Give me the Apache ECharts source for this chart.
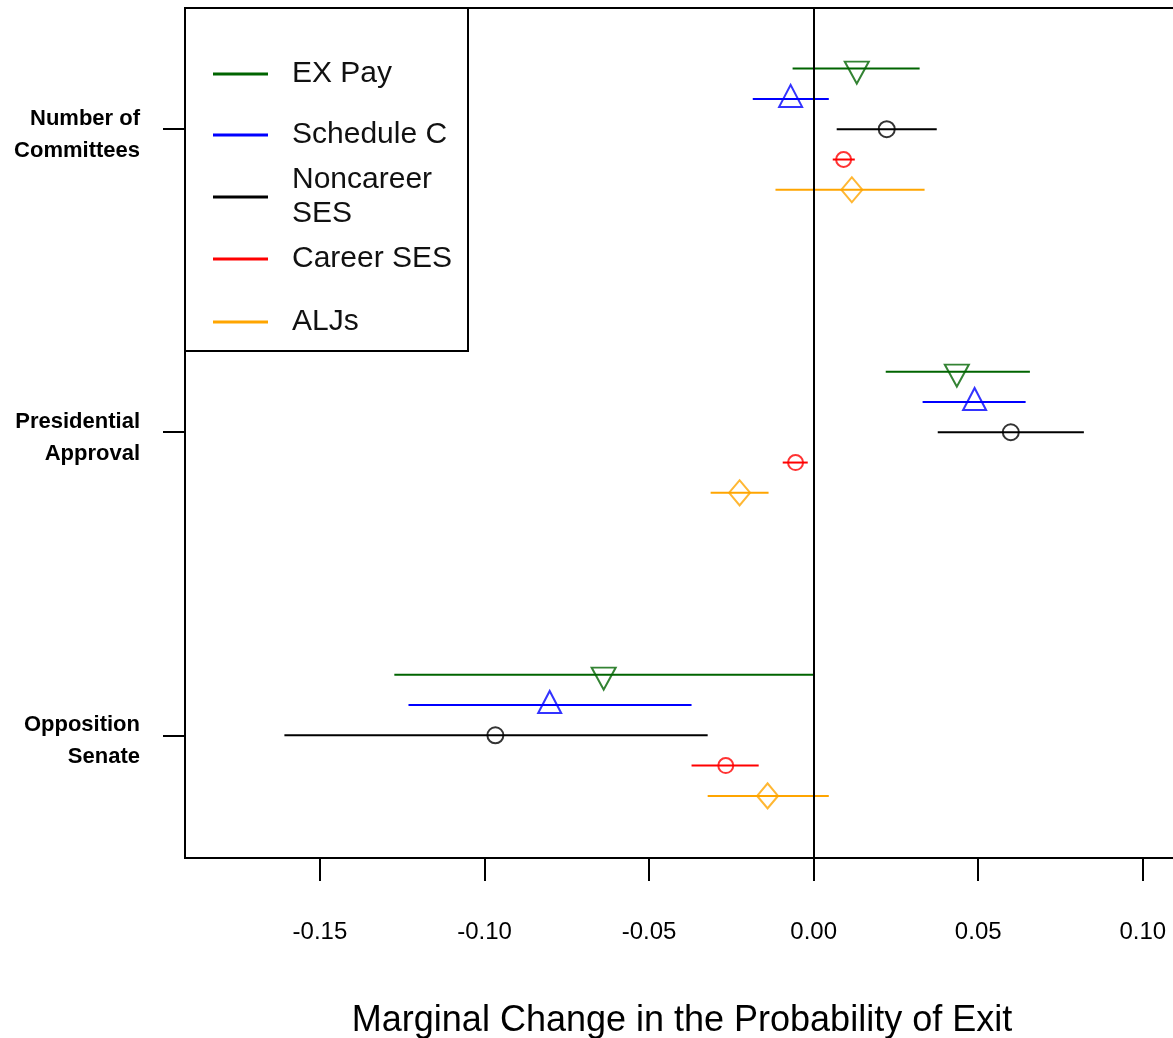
<!DOCTYPE html>
<html>
<head>
<meta charset="utf-8">
<script src="https://cdn.jsdelivr.net/npm/echarts@6/dist/echarts.min.js"></script>
<style>
  html, body { margin: 0; padding: 0; background: #fff; }
  #chatMain { width: 1173px; height: 1038px; }
</style>
</head>
<body>
<div id="chatMain"></div>
<script>
// 分组（y轴），从上到下
var groups = ['Number of\nCommittees', 'Presidential\nApproval', 'Opposition\nSenate'];
var tickVals = [-0.15, -0.10, -0.05, 0.00, 0.05, 0.10];

// 每个系列：估计值 + 置信区间（按 groups 顺序）
var exPayEst = [0.0131, 0.0435, -0.0638];
var exPayLo  = [-0.0064, 0.0219, -0.1274];
var exPayHi  = [0.0322, 0.0657, 0.0000];

var schedCEst = [-0.0070, 0.0489, -0.0802];
var schedCLo  = [-0.0185, 0.0331, -0.1231];
var schedCHi  = [0.0046, 0.0644, -0.0371];

var noncarEst = [0.0222, 0.0599, -0.0967];
var noncarLo  = [0.0070, 0.0377, -0.1608];
var noncarHi  = [0.0374, 0.0821, -0.0322];

var careerEst = [0.0091, -0.0055, -0.0267];
var careerLo  = [0.0058, -0.0094, -0.0371];
var careerHi  = [0.0125, -0.0018, -0.0167];

var aljEst = [0.0116, -0.0225, -0.0140];
var aljLo  = [-0.0116, -0.0313, -0.0322];
var aljHi  = [0.0337, -0.0137, 0.0046];

var FONT = "'Liberation Sans', Arial, sans-serif";

var seriesDefs = [
  { name: 'EX Pay', color: '#006400', est: exPayEst, lo: exPayLo, hi: exPayHi, off: -0.2,
    symbol: 'triangle', size: [24, 22], rotate: 180, symOff: [0, 4], legendTop: 57 },
  { name: 'Schedule C', color: '#0000ff', est: schedCEst, lo: schedCLo, hi: schedCHi, off: -0.1,
    symbol: 'triangle', size: [23, 22], rotate: 0, symOff: [0, -3], legendTop: 118 },
  { name: 'Noncareer\nSES', color: '#000000', est: noncarEst, lo: noncarLo, hi: noncarHi, off: 0,
    symbol: 'circle', size: 16, rotate: 0, symOff: [0, 0], legendTop: 163 },
  { name: 'Career SES', color: '#ff0000', est: careerEst, lo: careerLo, hi: careerHi, off: 0.1,
    symbol: 'circle', size: 15, rotate: 0, symOff: [0, 0], legendTop: 242 },
  { name: 'ALJs', color: '#ffa500', est: aljEst, lo: aljLo, hi: aljHi, off: 0.2,
    symbol: 'diamond', size: [21, 25], rotate: 0, symOff: [0, 0], legendTop: 305 }
];

var series = [];
var legends = [];

seriesDefs.forEach(function (s, i) {
  var ciData = groups.map(function (g, k) { return [s.lo[k], s.hi[k], k + 1 + s.off]; });
  var ptData = groups.map(function (g, k) { return [s.est[k], k + 1 + s.off]; });

  var ci = {
    name: s.name,
    type: 'custom',
    itemStyle: { color: s.color },
    encode: { x: [0, 1], y: 2 },
    data: ciData,
    renderItem: function (params, api) {
      var p1 = api.coord([api.value(0), api.value(2)]);
      var p2 = api.coord([api.value(1), api.value(2)]);
      return {
        type: 'line',
        shape: { x1: p1[0], y1: p1[1], x2: p2[0], y2: p2[1] },
        style: { stroke: s.color, lineWidth: 2 }
      };
    }
  };
  if (i === 0) {
    // 0 参考线
    ci.markLine = {
      silent: true,
      symbol: ['none', 'none'],
      label: { show: false },
      lineStyle: { color: '#000', width: 2, type: 'solid' },
      data: [{ xAxis: 0 }]
    };
  }
  series.push(ci);

  series.push({
    name: s.name,
    type: 'scatter',
    symbol: s.symbol,
    symbolSize: s.size,
    symbolRotate: s.rotate,
    symbolOffset: s.symOff,
    itemStyle: { color: 'rgba(0,0,0,0)', borderColor: s.color, borderWidth: 2 },
    data: ptData,
    z: 3
  });

  legends.push({
    left: 213,
    top: s.legendTop,
    padding: 0,
    icon: 'rect',
    itemWidth: 55,
    itemHeight: 3,
    selectedMode: false,
    data: [{ name: s.name, itemStyle: { color: s.color, borderWidth: 0 } }],
    textStyle: { fontSize: 30, lineHeight: 34, color: '#111', fontFamily: FONT, padding: [0, 0, 0, 19] },
    z: 10
  });
});

var myChart = echarts.init(document.getElementById('chatMain'));
myChart.setOption({
  animation: false,
  backgroundColor: '#fff',
  grid: {
    left: 185, top: 8, width: 994, height: 850,
    outerBoundsMode: 'none',
    containLabel: false,
    show: true, borderColor: '#000', borderWidth: 2
  },
  graphic: [{
    type: 'rect',
    z: 5,
    shape: { x: 185, y: 8, width: 283, height: 343 },
    style: { fill: '#fff', stroke: '#000', lineWidth: 2 }
  }],
  legend: legends,
  xAxis: {
    type: 'value',
    min: -0.191,
    max: 0.111,
    splitLine: { show: false },
    axisLine: { show: true, onZero: false, lineStyle: { color: '#000', width: 2 } },
    axisTick: { show: true, customValues: tickVals, length: 23, lineStyle: { color: '#000', width: 2 } },
    axisLabel: {
      customValues: tickVals,
      margin: 62,
      fontSize: 24,
      color: '#000',
      fontFamily: FONT,
      formatter: function (v) { return v.toFixed(2); }
    },
    name: 'Marginal Change in the Probability of Exit',
    nameLocation: 'middle',
    nameGap: 145,
    nameTextStyle: { fontSize: 36, color: '#000', fontFamily: FONT }
  },
  yAxis: {
    type: 'value',
    inverse: true,
    min: 0.6,
    max: 3.405,
    splitLine: { show: false },
    axisLine: { show: true, onZero: false, lineStyle: { color: '#000', width: 2 } },
    axisTick: { show: true, customValues: [1, 2, 3], length: 22, lineStyle: { color: '#000', width: 2 } },
    axisLabel: {
      // 标签比刻度略低一点
      customValues: [1.02, 2.02, 3.02],
      margin: 45,
      fontSize: 22,
      fontWeight: 'bold',
      lineHeight: 32,
      color: '#000',
      fontFamily: FONT,
      formatter: function (v) { return groups[Math.round(v) - 1]; }
    }
  },
  series: series
});
</script>
</body>
</html>
